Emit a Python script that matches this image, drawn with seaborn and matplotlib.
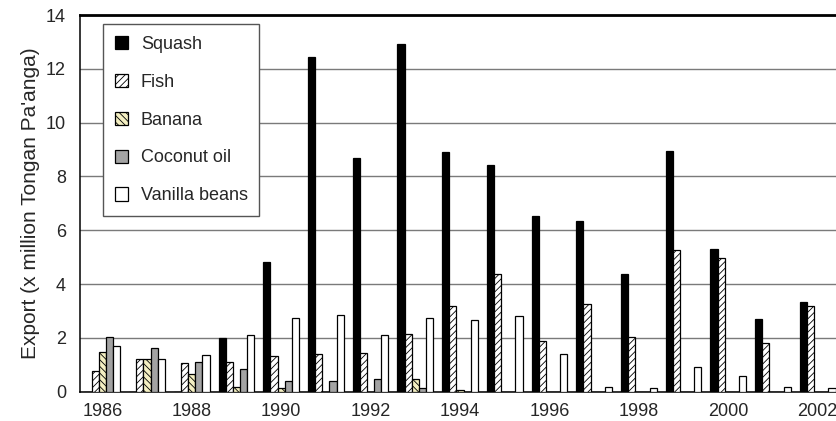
import pandas as pd
import matplotlib.pyplot as plt
import seaborn as sns
from matplotlib.patches import Patch

# export values (x million Tongan Pa'anga)
years = [str(y) for y in range(1986, 2003)]
squash = [0, 0, 0, 2.00, 4.83, 12.45, 8.68, 12.94, 8.89, 8.43, 6.54, 6.35, 4.38, 8.95, 5.29, 2.69, 3.35]
fish = [0.78, 1.23, 1.05, 1.12, 1.33, 1.39, 1.44, 2.14, 3.19, 4.38, 1.88, 3.26, 2.02, 5.27, 4.96, 1.82, 3.19]
banana = [1.49, 1.23, 0.66, 0.19, 0.14, 0, 0, 0.46, 0.05, 0, 0, 0, 0, 0, 0, 0, 0]
coconut = [2.02, 1.64, 1.12, 0.84, 0.40, 0.40, 0.46, 0.15, 0, 0, 0, 0, 0, 0, 0, 0, 0]
vanilla = [1.71, 1.23, 1.38, 2.11, 2.75, 2.85, 2.10, 2.75, 2.67, 2.81, 1.39, 0.19, 0.13, 0.93, 0.58, 0.19, 0.13]

products = ['Squash', 'Fish', 'Banana', 'Coconut oil', 'Vanilla beans']
colors = ['#000000', '#ffffff', '#f4efc2', '#a3a3a3', '#ffffff']
hatches = ['', '/////', '\\\\\\\\\\', '', '']

df = pd.DataFrame({'year': years, 'Squash': squash, 'Fish': fish, 'Banana': banana,
                   'Coconut oil': coconut, 'Vanilla beans': vanilla})
long = df.melt(id_vars='year', var_name='product', value_name='export')

sns.set_style('white')
plt.rcParams['font.family'] = ['Liberation Sans', 'DejaVu Sans']
plt.rcParams['hatch.linewidth'] = 0.6

fig = plt.figure(figsize=(8.37, 4.21), dpi=100)
ax = fig.add_axes([80 / 837, 29.3 / 421, 760 / 837, 376.7 / 421])

sns.barplot(data=long, x='year', y='export', hue='product', order=years,
            hue_order=products, palette=colors, saturation=1, width=0.8,
            edgecolor='black', linewidth=0.9, legend=False, ax=ax, zorder=3)

for cont, h in zip(ax.containers, hatches):
    for bar in cont:
        bar.set_hatch(h)

ax.set_ylim(0, 14)
ax.set_xlim(-0.5, len(years) - 0.5)
ax.set_yticks(range(0, 15, 2))
ax.yaxis.grid(True, color='#7a7a7a', linewidth=1)
ax.set_axisbelow(True)

ax.set_xticks(range(len(years)))
ax.set_xticklabels([y if int(y) % 2 == 0 else '' for y in years])
ax.set_xticks([i + 0.5 for i in range(-1, len(years))], minor=True)
ax.tick_params(axis='x', which='major', length=0, labelsize=13, pad=8)
ax.tick_params(axis='x', which='minor', length=6, width=1, direction='out', color='black')
ax.tick_params(axis='y', length=7, width=1, direction='out', color='black', labelsize=13, pad=3)
ax.set_xlabel('')
ax.set_ylabel("Export (x million Tongan Pa'anga)", fontsize=15)
ax.yaxis.set_label_coords(-0.052, 0.5)

for side in ['left', 'bottom']:
    ax.spines[side].set_color('black')
    ax.spines[side].set_linewidth(1.1)
ax.spines['top'].set_color('black')
ax.spines['top'].set_linewidth(2)
ax.spines['right'].set_visible(False)

handles = [Patch(facecolor=c, edgecolor='black', hatch=h, linewidth=0.9)
           for c, h in zip(colors, hatches)]
leg = ax.legend(handles, products, loc='upper left', bbox_to_anchor=(0.03, 0.975),
                fontsize=13, frameon=True, fancybox=False, framealpha=1,
                handlelength=0.75, handleheight=0.75, handletextpad=0.7,
                labelspacing=1.15, borderpad=0.65, borderaxespad=0)
leg.get_frame().set_edgecolor('#555555')
leg.get_frame().set_linewidth(1)

fig.savefig('out.png', dpi=100)
